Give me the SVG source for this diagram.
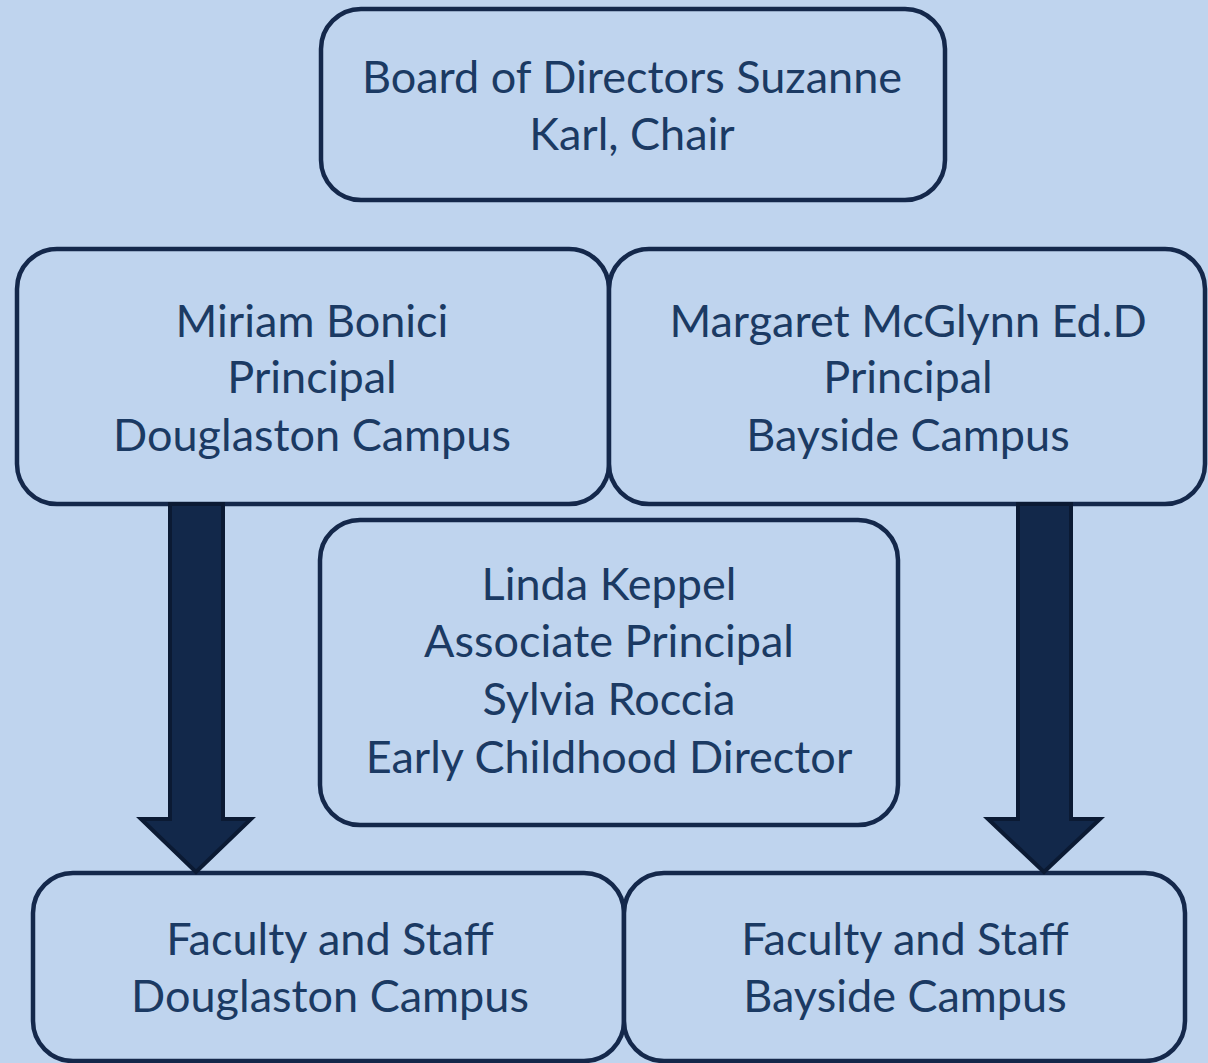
<svg xmlns="http://www.w3.org/2000/svg" width="1208" height="1063" viewBox="0 0 1208 1063">
<style>
.box{fill:#bfd4ee;stroke:#14284b;stroke-width:4.5}
.t{font-family:Lato,"Open Sans","Liberation Sans",sans-serif;font-size:45px;fill:#1b3a63;text-anchor:middle}
.arrow{fill:#12284a;stroke:#0b1a33;stroke-width:4;stroke-linejoin:miter}
</style>
<rect width="1208" height="1063" fill="#bfd4ee"/>
<g id="board">
<rect class="box" x="321" y="9" width="624" height="191" rx="40"/>
<text class="t" x="632" y="93">Board of Directors Suzanne</text>
<text class="t" x="632" y="150">Karl, Chair</text>
</g>
<g id="bonici">
<rect class="box" x="17" y="249" width="592" height="255" rx="40"/>
<text class="t" x="312" y="337">Miriam Bonici</text>
<text class="t" x="312" y="393">Principal</text>
<text class="t" x="312" y="451">Douglaston Campus</text>
</g>
<g id="mcglynn">
<rect class="box" x="609" y="249" width="596" height="255" rx="40"/>
<text class="t" x="908" y="337">Margaret McGlynn Ed.D</text>
<text class="t" x="908" y="393">Principal</text>
<text class="t" x="908" y="451">Bayside Campus</text>
</g>
<g id="keppel">
<rect class="box" x="320" y="520" width="578" height="305" rx="40"/>
<text class="t" x="609" y="600">Linda Keppel</text>
<text class="t" x="609" y="657">Associate Principal</text>
<text class="t" x="609" y="715">Sylvia Roccia</text>
<text class="t" x="609" y="773">Early Childhood Director</text>
</g>
<g id="faculty-douglaston">
<rect class="box" x="33" y="873" width="591" height="188" rx="40"/>
<text class="t" x="330" y="955">Faculty and Staff</text>
<text class="t" x="330" y="1012">Douglaston Campus</text>
</g>
<g id="faculty-bayside">
<rect class="box" x="624" y="873" width="561" height="188" rx="40"/>
<text class="t" x="905" y="955">Faculty and Staff</text>
<text class="t" x="905" y="1012">Bayside Campus</text>
</g>
<g id="connectors">
<path class="arrow" d="M170,504 H223 V819 H251 L196,872 L141,819 H170 Z"/>
<path class="arrow" d="M1018,504 H1071 V819 H1100 L1044,872 L988,819 H1018 Z"/>
</g>
</svg>
